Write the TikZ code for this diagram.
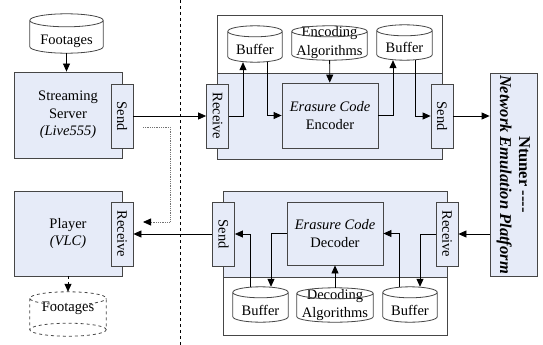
\documentclass[tikz,border=0pt]{standalone}
\usepackage{fontspec}
\setmainfont{Liberation Serif}
\usetikzlibrary{arrows.meta, calc, positioning}
\definecolor{paleblue}{RGB}{230,235,248}
\definecolor{edge}{RGB}{70,70,70}

% cylinder drawn round a named node: [options]{node}{end radius}
\newcommand{\drum}[3][]{%
  \draw[line width=0.8pt, edge, #1] let \p1=(#2.north west), \p2=(#2.south east), \n1={(\x2-\x1)/2} in
    (\x1,\y1-#3) -- (\x1,\y2+#3) arc[start angle=180, end angle=360, x radius=\n1, y radius=#3]
    -- (\x2,\y1-#3) arc[start angle=0, end angle=360, x radius=\n1, y radius=#3];
}
\newcommand{\drumback}[3][]{%
  \draw[line width=0.8pt, edge, #1] let \p1=(#2.north west), \p2=(#2.south east), \n1={(\x2-\x1)/2} in
    (\x2,\y2+#3) arc[start angle=0, end angle=180, x radius=\n1, y radius=#3];
}
\newcommand{\shiftdown}[2]{\raisebox{-#1}[\height][\depth]{#2}}

\begin{document}
\begin{tikzpicture}[x=1pt, y=-1pt, font=\fontsize{14.5}{17.5}\selectfont]
\tikzset{
  arr/.style={-{Triangle[length=8pt,width=7pt,black]}, line width=0.8pt},
  unit/.style={draw=edge, fill=paleblue, line width=0.8pt, inner sep=0pt, align=center},
  port/.style={unit, minimum width=22pt, minimum height=64pt},
  store/.style={inner sep=0pt, align=center},
  frame/.style={draw=edge, line width=0.8pt}
}
\useasboundingbox (0,0) rectangle (543,345);

% separator
\draw[dashed, line width=0.7pt] (180,0) -- (180,345);

% encoder and decoder frames
\filldraw[frame, fill=white] (217,15) rectangle (442,159);
\filldraw[frame, fill=paleblue] (217,73) rectangle (442,159);
\filldraw[frame, fill=white] (223,191) rectangle (447,335);
\filldraw[frame, fill=paleblue] (223,191) rectangle (447,277);

% sender side
\node[unit, minimum width=108pt, minimum height=86pt] (server) at (68,115) {Streaming\\Server\\\textit{(Live555)}};
\node[port] (send1) at (122,116) {\rotatebox{-90}{Send}};
\node[unit, minimum width=108pt, minimum height=85pt] (player) at (68,233.5) {Player\\\textit{(VLC)}};
\node[port] (recv0) at (122,234) {\rotatebox{-90}{Receive}};

\node[store, minimum width=73pt, minimum height=39pt] (foot1) at (66.5,33.5) {\shiftdown{8pt}{Footages}};
\node[store, minimum width=76pt, minimum height=44pt] (foot2) at (68,314) {\shiftdown{-6pt}{Footages}};

% encoder
\node[port] (recv1) at (217.5,116) {\rotatebox{-90}{Receive}};
\node[unit, minimum width=96pt, minimum height=65pt] (enc) at (330,115.5) {\textit{Erasure Code}\\Encoder};
\node[port] (send2) at (442,116) {\rotatebox{-90}{Send}};
\node[store, minimum width=54pt, minimum height=36pt] (buf1) at (255,44) {\shiftdown{5pt}{Buffer}};
\node[store, minimum width=75pt, minimum height=34pt, font=\fontsize{14.5}{19}\selectfont] (encalg) at (329.5,43) {Encoding\\Algorithms};
\node[store, minimum width=55pt, minimum height=35pt] (buf2) at (404.5,42.5) {\shiftdown{5pt}{Buffer}};

% network emulator
\node[unit, minimum width=47pt, minimum height=203pt, font=\fontsize{16.5}{19}\selectfont] (ntuner) at (513.5,174.5)
  {\rotatebox{-90}{\begin{tabular}{@{}c@{}}\textbf{Ntuner {-}{-}{-}{-}}\\\textbf{\textit{Network Emulation Platform}}\end{tabular}}};

% decoder
\node[port] (send3) at (223.5,234) {\rotatebox{-90}{Send}};
\node[unit, minimum width=96pt, minimum height=63pt] (dec) at (335,233.5) {\textit{Erasure Code}\\Decoder};
\node[port] (recv3) at (447,234) {\rotatebox{-90}{Receive}};
\node[store, minimum width=55pt, minimum height=35pt] (buf3) at (260.5,304.5) {\shiftdown{6pt}{Buffer}};
\node[store, minimum width=76pt, minimum height=34pt] (decalg) at (335,305) {Decoding\\Algorithms};
\node[store, minimum width=54pt, minimum height=35pt] (buf4) at (410,304.5) {\shiftdown{6pt}{Buffer}};

\drum{foot1}{6.5pt}
\drum[dashed]{foot2}{6.5pt}
\drumback[dashed]{foot2}{6.5pt}
\drum{buf1}{5.5pt}
\drum{encalg}{5.5pt}
\drum{buf2}{5.5pt}
\drum{buf3}{5.5pt}
\drum{decalg}{5.5pt}
\drum{buf4}{5.5pt}

% data flow
\draw[arr] (foot1.south) -- (foot1.south |- server.north);
\draw[arr] (send1) -- (recv1);
\draw[arr] (recv1) -| ([xshift=-12pt]buf1.south);
\draw[arr] ([xshift=12pt]buf1.south) |- (enc);
\draw[arr] (encalg) -- (enc);
\draw[arr] (enc) -| ([xshift=-11.5pt]buf2.south);
\draw[arr] ([xshift=10.5pt]buf2.south) |- (send2);
\draw[arr] (send2.east) -- (send2.east -| ntuner.west);
\draw[arr] (ntuner.west |- recv3.east) -- (recv3.east);
\draw[arr] (recv3) -| ([xshift=10pt]buf4.north);
\draw[arr] ([xshift=-11pt]buf4.north) |- (dec);
\draw[arr] (dec) -| ([xshift=10.5pt]buf3.north);
\draw[arr] ([xshift=-10.5pt]buf3.north) |- (send3);
\draw[arr] (decalg) -- (dec);
\draw[arr] (send3) -- (recv0);
\draw[arr, dashed] (player) -- (foot2);

\coordinate (dot1) at (143,127);
\coordinate (dot2) at (143,222);
\draw[arr, densely dotted, black!55] (dot1) -- (170,127) -- (170,222) -- (dot2);
\end{tikzpicture}
\end{document}
